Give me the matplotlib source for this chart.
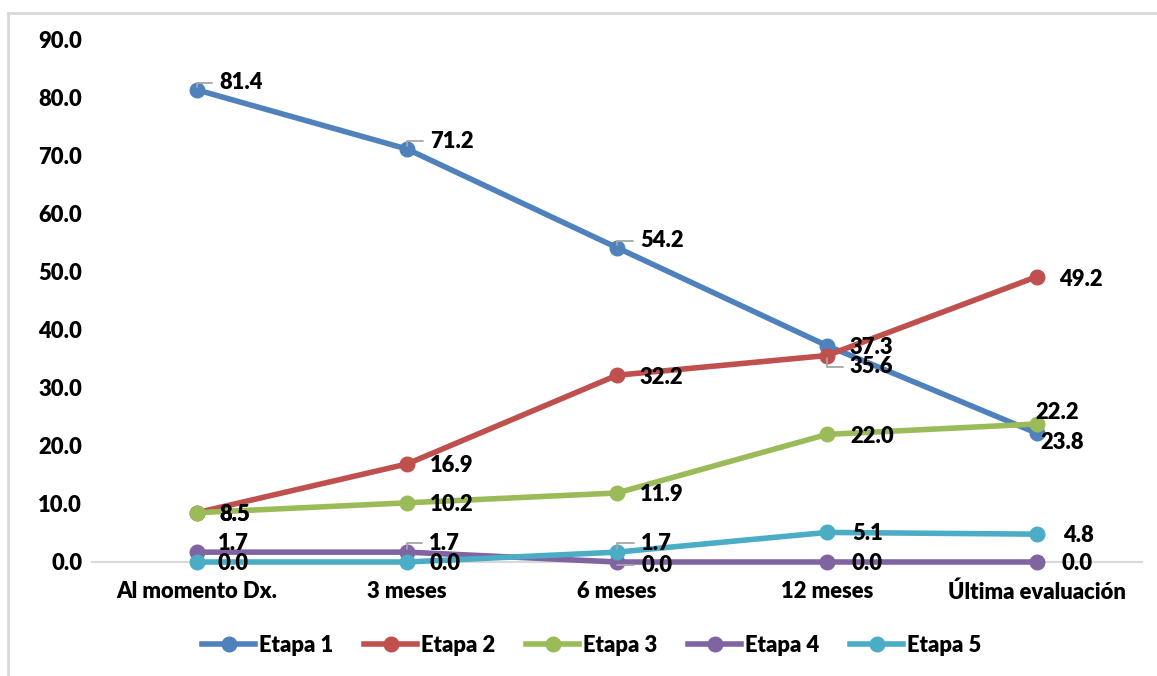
import matplotlib
matplotlib.use("Agg")
import matplotlib.pyplot as plt
from matplotlib.lines import Line2D

plt.rcParams['font.family'] = ['Lato', 'DejaVu Sans']
plt.rcParams['font.weight'] = 'heavy'

categories = ["Al momento Dx.", "3 meses", "6 meses", "12 meses", "Última evaluación"]
etapa1 = [81.4, 71.2, 54.2, 37.3, 22.2]
etapa2 = [8.5, 16.9, 32.2, 35.6, 49.2]
etapa3 = [8.5, 10.2, 11.9, 22.0, 23.8]
etapa4 = [1.7, 1.7, 0.0, 0.0, 0.0]
etapa5 = [0.0, 0.0, 1.7, 5.1, 4.8]
series_names = ["Etapa 1", "Etapa 2", "Etapa 3", "Etapa 4", "Etapa 5"]
yticks = [0, 10, 20, 30, 40, 50, 60, 70, 80, 90]

colors = ["#4F81BD", "#C0504D", "#9BBB59", "#8064A2", "#4BACC6"]

# label offsets in pixels (dx, dy) for each point, plus whether a leader line is drawn
label_pos = [
    [(22, 7, True), (23, 8, True), (23, 7, True), (23, -2, False), (-2, 21, False)],
    [(22, -2, False), (23, -2, False), (23, -2, False), (23, -11, True), (22, -3, False)],
    [(22, -2, False), (23, -2, False), (23, -2, False), (23, -2, False), (3, -19, False)],
    [(21, 9, False), (22, 9, True), (24, -3, True), (25, -1, False), (25, -1, False)],
    [(21, -1, False), (22, -1, False), (24, 9, True), (25, -1, False), (26, -1, False)],
]

fs = 15.8
fw = 'heavy'
fig = plt.figure(figsize=(11.57, 6.76), dpi=100)
ax = fig.add_axes([92 / 1157, (676 - 562) / 676, (1142 - 92) / 1157, (562 - 40) / 676])

x = list(range(len(categories)))
all_series = [etapa1, etapa2, etapa3, etapa4, etapa5]
for i, vals in enumerate(all_series):
    ax.plot(x, vals, color=colors[i], lw=4, marker='o', markersize=10.5,
            solid_capstyle='round', solid_joinstyle='round', zorder=3 + i, clip_on=False)

for i, vals in enumerate(all_series):
    for j, v in enumerate(vals):
        dx, dy, leader = label_pos[i][j]
        kw = {}
        if leader:
            kw['arrowprops'] = dict(arrowstyle='-', color='#A6A6A6', lw=1.3,
                                    connectionstyle='angle,angleA=0,angleB=90,rad=0',
                                    relpos=(0, 0.5), shrinkA=3, shrinkB=2)
        ax.annotate(f"{v:.1f}", (j, v), xytext=(dx, dy), textcoords='offset pixels',
                    ha='left', va='center', fontsize=fs, fontweight=fw, color='black',
                    zorder=20, annotation_clip=False, **kw)

ax.set_xlim(-0.5, 4.5)
ax.set_ylim(0, 90)
ax.set_yticks(yticks)
ax.set_yticklabels([f"{t:.1f}" for t in yticks])
ax.set_xticks(x)
ax.set_xticklabels(categories)
ax.tick_params(axis='both', length=0, labelsize=fs)
ax.tick_params(axis='y', pad=7)
ax.tick_params(axis='x', pad=14)
for lab in ax.get_xticklabels() + ax.get_yticklabels():
    lab.set_fontweight(fw)
for side in ['top', 'right', 'left']:
    ax.spines[side].set_visible(False)
ax.spines['bottom'].set_color('#D9D9D9')
ax.spines['bottom'].set_linewidth(1.5)
ax.spines['bottom'].set_zorder(1)

# chart area border (top and left edges)
fig.add_artist(Line2D([8 / 1157, 1.0], [1 - 13 / 676, 1 - 13 / 676], color='#D9D9D9', lw=2))
fig.add_artist(Line2D([8 / 1157, 8 / 1157], [0, 1 - 13 / 676], color='#D9D9D9', lw=2))

handles = [Line2D([], [], color=c, lw=4, marker='o', markersize=10.5) for c in colors]
fig.legend(handles, series_names, loc='center', bbox_to_anchor=(592 / 1157, 31 / 676),
           ncol=5, frameon=False, handlelength=2.4, handletextpad=0.2,
           columnspacing=1.4, prop={'weight': fw, 'size': fs})

fig.savefig("out.png", dpi=100)
